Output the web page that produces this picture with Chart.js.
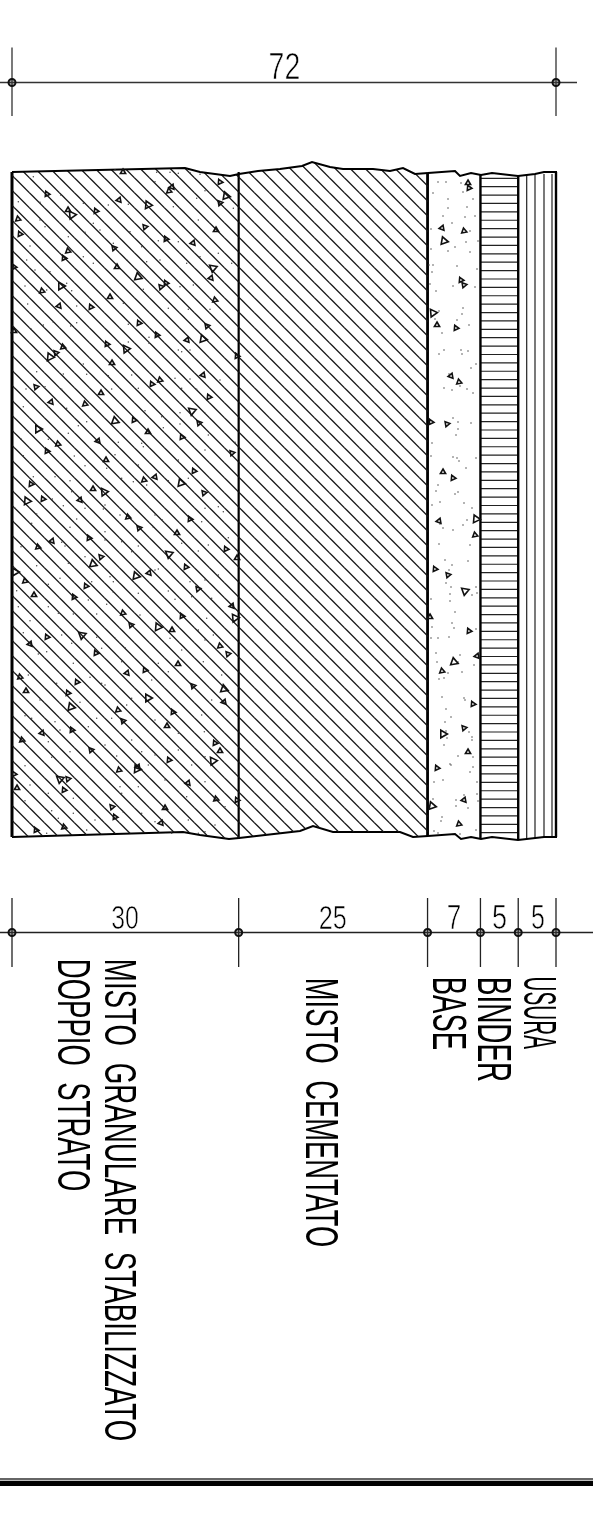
<!DOCTYPE html>
<html><head><meta charset="utf-8">
<style>html,body{margin:0;padding:0;background:#fff}canvas{display:block}</style>
<script src="https://cdn.jsdelivr.net/npm/chart.js@4/dist/chart.umd.min.js"></script>
</head><body><canvas id="c" width="593" height="1515"></canvas>
<script>
// Layer thicknesses in cm, from the dimension strings
const layerNames = ["MISTO GRANULARE STABILIZZATO / DOPPIO STRATO","MISTO CEMENTATO","BASE","BINDER","USURA"];
const layerThickness = [30,25,7,5,5];
const totalThickness = 72;
const usuraLines = [526.7,535,544,552];

// Sheet readings (x, y as measured on the drawing)
const edgeTopGravel = [[12,172],[185,168],[200,172],[230,176],[239,174]];
const edgeBotGravel = [[12,837],[183,832],[200,835],[229,839],[239,838]];
const edgeTopCement = [[239,174],[258,171],[280,169],[302,166],[312,162],[330,167],[343,169],[373,169],[390,171],[403,168],[415,174],[428,173]];
const edgeBotCement = [[239,838],[300,831],[313,826],[333,832],[400,832],[413,837],[428,836]];
const edgeTopAsphalt = [[428,173],[455,171],[460,176],[471,173],[481,175],[492,173],[518,176],[535,174],[544,172],[557,172]];
const edgeBotAsphalt = [[428,836],[455,834],[461,839],[471,837],[481,839],[492,837],[518,840],[544,837],[557,837]];

const gravelTriSmall = [[123,172],[47,194],[172,187],[169,191],[220,182],[220,203],[68,210],[96,211],[119,200],[18,219],[20,234],[145,227],[216,230],[166,239],[193,243],[68,251],[64,258],[114,248],[117,267],[14,267],[211,278],
[42,291],[166,283],[161,287],[110,297],[91,307],[59,306],[215,300],[139,323],[207,326],[14,331],[157,335],[187,340],[63,347],[107,344],[56,353],[112,363],[237,356],[203,375],[160,380],[152,384],[36,387],[101,393],[209,397],[51,402],[85,404],[134,420],[199,423],[148,432],[182,437],[98,441],[58,444],[47,451],[232,453],[106,460],
[194,471],[155,477],[144,480],[31,484],[204,493],[93,489],[43,499],[80,500],[128,517],[190,519],[139,528],[177,533],[89,538],[52,541],[38,547],[226,549],[101,557],[237,558],[186,567],[149,573],[25,581],[86,586],[198,589],[34,595],[74,597],[232,606],[123,613],[182,616],[131,625],[172,630],[47,637],[30,644],[220,646],[96,653],[228,654],
[178,664],[145,670],[127,673],[20,677],[77,682],[193,686],[26,691],[68,693],[224,702],[118,710],[173,712],[123,721],[167,726],[72,730],[42,733],[22,740],[215,743],[91,750],[220,751],[169,760],[138,767],[119,770],[14,774],[68,779],[17,788],[64,790],[188,783],[216,799],[237,800],[112,807],[165,808],[115,817],[161,823],[64,827],[36,830]];
const gravelTriLarge = [[226,196],[72,215],[148,205],[213,268],[138,277],[61,286],[203,339],[126,349],[50,357],[192,411],[115,421],[38,429],
[181,483],[104,492],[27,501],[169,554],[93,564],[15,572],[136,576],[235,618],[158,627],[82,635],[224,689],[148,698],[71,707],[213,761],[137,769],[60,779]];
const baseTriSmall = [[468,183],[469,188],[442,228],[464,231],[461,280],[464,285],[437,325],[456,328],[451,376],[459,382],[431,422],[447,424],[443,472],[453,478],[439,521],[475,535],[435,569],[448,575],[430,617],[469,631],[477,656],[442,671],[473,704],[464,728],[468,752],[437,768],[464,800],[459,824]];
const baseTriLarge = [[444,241],[433,313],[476,519],[465,591],[454,662],[443,734],[432,806]];
const baseDots = [[438,182],[446,182],[461,183],[463,192],[433,193],[473,199],[448,199],[448,208],[467,207],[443,216],[465,217],[475,216],[452,223],[431,229],[470,231],[478,241],[466,242],[455,247],[431,249],[448,251],[470,252],[429,265],[433,265],[457,266],[477,269],[432,272],[430,284],[453,286],[475,287],[436,291],[463,308],[462,314],[439,311],[457,320],[435,319],[469,325],[442,333],[461,350],[468,351],[444,350],[439,354],[462,354],[476,364],[471,368],[449,374],[460,386],[444,388],[452,390],[467,389],[473,393],
[453,418],[458,422],[471,423],[458,429],[456,435],[432,443],[431,456],[453,457],[457,458],[459,461],[476,458],[466,468],[438,485],[436,491],[458,492],[455,494],[440,502],[432,505],[464,503],[472,508],[467,520],[463,525],[440,524],[443,528],[453,530],[439,544],[470,545],[445,560],[468,561],[452,565],[449,570],[446,583],[451,587],[476,587],[472,595],[477,593],[450,594],[450,601],[431,599],[455,612],[452,623],
[432,627],[454,628],[476,629],[449,637],[438,638],[431,638],[436,653],[460,655],[437,662],[458,662],[474,665],[448,673],[462,672],[444,678],[439,679],[442,697],[464,698],[465,700],[446,709],[451,717],[445,722],[469,732],[446,731],[472,737],[472,740],[447,738],[444,745],[458,756],[473,757],[450,764],[451,765],[473,767],[470,772],[443,780],[434,782],[477,782],[477,794],[433,799],[456,800],[464,795],[478,801],[468,808],[456,806],[442,817],[441,821],[434,831],[438,833],[476,830],[460,834]];
const dotsCropA = [[345,420],[470,427],[510,427],[535,430],[570,428],[600,433],[55,515],[100,440],[182,495],[120,517],[250,520],[325,525],[385,523],[465,455],[615,482],[520,530],[590,505],[135,590],[120,570],[90,648],[130,620],[205,620],[255,607],[300,600],[280,580],[390,605],[340,640],[475,632],[535,635],[425,650],[595,570],[700,535],[150,725],[105,720],[80,690],[250,680],[280,700],[440,695],[380,690],[480,690],[560,700],[600,680],[655,670],[200,760],[330,775],[540,770],[580,765],[695,700]];
const dotsCropB = [[60,18],[125,30],[200,32],[120,55],[68,72],[140,75],[215,78],[355,70],[415,28],[490,85],[550,88],[615,88],[370,133],[215,128],[145,127],[115,135],[78,147],[197,138],[432,172],[432,190],[370,186],[520,210],[555,210],[530,215],[635,255],[235,252],[95,275],[175,282],[245,283],[310,287],[380,285],[510,295],[555,297],[645,300],[63,327],[120,320],[170,328],[320,327],[400,325],[530,325],[575,328],[130,380],[55,380],[185,385],[420,392],[470,410],[525,398],[600,400],[245,425],[220,437],[190,460],[48,477],[130,478],[340,487],[410,490],[475,443],[525,432],[610,465],[690,487],[55,527],[208,528],[330,524],[415,500],[520,540],[600,510],[400,555]];
const dotsCropC = [[85,35],[150,35],[195,47],[240,2],[305,10],[350,40],[385,50],[490,47],[550,40],[425,60],[30,130],[95,147],[142,102],[175,122],[200,80],[215,162],[240,130],[300,120],[295,132],[345,150],[450,150],[510,115],[600,130],[640,125],[655,140],[195,187],[80,175],[300,200],[445,187],[472,165],[590,170],[530,235],[170,232],[180,243],[300,225],[350,230],[400,243],[610,240],[670,218],[580,258],[48,245],[380,260],[450,315],[95,302],[190,295],[240,275],[315,335],[325,350],[165,340],[460,312],[555,350],[600,345],[640,330],[35,377],[130,358],[260,350],[325,382],[400,385],[490,378],[560,395],[130,425],[40,425],[160,445],[250,405],[305,418],[510,403],[620,400],[75,467],[205,447],[275,447],[405,450],[605,460],[55,503],[170,510],[275,517],[330,520],[495,520],[580,495],[625,510],[200,535],[290,550],[360,548],[530,555],[600,525],[100,567]];
const dotsCropD = [[125,5],[205,40],[350,35],[460,40],[595,35],[70,75],[155,100],[290,100],[255,82],[300,105],[440,90],[490,65],[650,75],[105,150],[225,157],[380,145],[365,165],[620,150],[60,197],[80,205],[150,215],[275,205],[320,205],[450,210],[590,195],[250,230],[380,270],[65,240],[165,240],[520,250],[598,245],[130,275],[335,318],[300,285],[450,315],[600,320],[140,322],[60,347],[195,305],[410,305],[520,300],[690,370],[430,345],[560,345],[345,410],[400,410],[480,390],[600,395],[75,405],[130,430],[205,445],[260,435],[350,430],[545,440],[60,452],[140,482],[205,490],[270,510],[290,510],[355,487],[410,490],[450,515],[550,510],[630,525],[660,470],[160,505],[125,550],[245,540],[500,550],[600,545],[580,550]];

const numberLabels = ["72","30","25","7","5","5"];
const numberBoxes = [[270,53,299,79],[112,905,138,929],[320,905,346,929],[448,905,460,929],[493,905,506,929],[532,905,544,929]];
const sideLabels = ["MISTO GRANULARE STABILIZZATO","DOPPIO STRATO","MISTO CEMENTATO","BASE","BINDER","USURA"];
const sideBoxes = [[105,961,137,1440],[58,961,91,1190],[306,980,339,1246],[433,979,467,1049],[478,979,511,1081],[524,978,557,1049]];

// Drawing geometry: sheet position of the origin and sheet units per cm
const K = 544/72, OX = 12, OY = 172;
const X = u => (u-OX)/K, Y = v => (v-OY)/K;
const pt = ([u,v]) => ({x:X(u),y:Y(v)});
const crop = (ox,oy,a) => a.map(([x,y]) => pt([ox+x/3,oy+y/3]));
const cum = [0]; layerThickness.forEach(t => cum.push(cum[cum.length-1]+t));

function hatch(){
  const S = 15, off = 1.7;
  const c = document.createElement('canvas'); c.width = c.height = S;
  const g = c.getContext('2d'); g.strokeStyle = '#111'; g.lineWidth = 1.3;
  for (let k=-2;k<=2;k++){ g.beginPath(); g.moveTo(-2,-2-off+k*S); g.lineTo(S+2,S+2-off+k*S); g.stroke(); }
  return g.createPattern(c,'repeat');
}
const H = hatch();
const line = (data,o={}) => Object.assign({type:'scatter',showLine:true,data,pointRadius:0,borderColor:'#000',borderWidth:2,fill:false,clip:false,order:5},o);
const tri = (data,r,turns) => ({type:'scatter',data,pointStyle:'triangle',pointRadius:r,borderColor:'#111',borderWidth:1.6,backgroundColor:'rgba(255,255,255,0)',
  rotation:c => turns[c.dataIndex%turns.length],clip:false,order:3});
const dots = data => ({type:'scatter',data,pointStyle:'circle',pointRadius:0.75,borderWidth:0,backgroundColor:'#444',clip:false,order:4});
const smallTurns = [0,95,20,110,-25,80], largeTurns = [100,85,95,70,110,90];

const dimTopY = Y(82.5), dimBotY = Y(932.5);
const tickPairs = (xs,a,b) => { const d=[]; xs.forEach(x=>{d.push({x,y:Y(a)},{x,y:Y(b)},{x:NaN,y:NaN});}); return d; };
const binderRows = []; for (let i=0;i<=78;i++){ const v=178.3+i*(654.4/78); binderRows.push({x:cum[3],y:Y(v)},{x:cum[4],y:Y(v)},{x:NaN,y:NaN}); }
const usura = []; usuraLines.forEach(u=>usura.push({x:X(u),y:Y(174)},{x:X(u),y:Y(838)},{x:NaN,y:NaN}));

const datasets = [
  line(edgeTopGravel.map(pt),{fill:'+1',backgroundColor:H}),
  line(edgeBotGravel.map(pt)),
  line(edgeTopCement.map(pt),{fill:'+1',backgroundColor:H}),
  line(edgeBotCement.map(pt)),
  line(edgeTopAsphalt.map(pt)),
  line(edgeBotAsphalt.map(pt)),
  line(binderRows,{borderWidth:1.2,borderColor:'#222',order:6,spanGaps:false}),
  line(usura,{borderWidth:1.2,borderColor:'#222',order:6,spanGaps:false}),
  line([{x:cum[0],y:Y(172)},{x:cum[0],y:Y(837)}],{borderWidth:3}),
  line([{x:cum[1],y:Y(172)},{x:cum[1],y:Y(839)}],{borderWidth:2.2}),
  line([{x:cum[2],y:Y(173)},{x:cum[2],y:Y(836)}],{borderWidth:2.8}),
  line([{x:cum[3],y:Y(174)},{x:cum[3],y:Y(839)}],{borderWidth:2.4}),
  line([{x:cum[4],y:Y(176)},{x:cum[4],y:Y(840)}],{borderWidth:2.4}),
  line([{x:cum[5],y:Y(172)},{x:cum[5],y:Y(837)}],{borderWidth:2.4}),
  line([{x:X(0),y:dimTopY},{x:X(577),y:dimTopY}],{borderWidth:1.3,borderColor:'#333'}),
  line([{x:X(0),y:dimBotY},{x:X(593),y:dimBotY}],{borderWidth:1.3,borderColor:'#222'}),
  line(tickPairs([0,totalThickness],47.5,116),{borderWidth:1.3,borderColor:'#333'}),
  line(tickPairs(cum,898,967),{borderWidth:1.3,borderColor:'#222'}),
  {type:'scatter',data:[{x:0,y:dimTopY},{x:totalThickness,y:dimTopY}].concat(cum.map(x=>({x,y:dimBotY}))),pointStyle:'circle',pointRadius:3.5,borderWidth:2,borderColor:'#111',backgroundColor:'rgba(60,60,60,.35)',clip:false,order:1},
  tri(gravelTriSmall.map(pt),3,smallTurns),tri(gravelTriLarge.map(pt),4.4,largeTurns),tri(baseTriSmall.map(pt),3,smallTurns),tri(baseTriLarge.map(pt),4.4,largeTurns),
  dots(baseDots.map(pt)),
  dots(crop(0,30,dotsCropA).concat(crop(5,280,dotsCropB),crop(5,465,dotsCropC),crop(5,650,dotsCropD))),
  line([{x:X(0),y:Y(1479)},{x:X(593),y:Y(1479)}],{borderWidth:1.6,borderColor:'#333'}),
  line([{x:X(0),y:Y(1483.4)},{x:X(593),y:Y(1483.4)}],{borderWidth:5.2})
];

const FONT = '"Liberation Sans Narrow","Liberation Sans"';
function fit(g,text,w,h,rotated,xs,ys,thin){
  g.save();
  g.font = '100px '+FONT; g.textBaseline='alphabetic'; g.textAlign='left'; g.fillStyle='#000';
  if ('wordSpacing' in g) g.wordSpacing = '32px';
  const m = g.measureText(text);
  const capH = m.actualBoundingBoxAscent + m.actualBoundingBoxDescent;
  const sy = h/capH, sx = w/(m.actualBoundingBoxRight+m.actualBoundingBoxLeft);
  g.translate(xs,ys);
  if (rotated) g.rotate(Math.PI/2);
  g.scale(sx,sy);
  g.translate(m.actualBoundingBoxLeft,-m.actualBoundingBoxDescent);
  g.fillText(text,0,0);
  if (thin>0){ g.strokeStyle='#fff'; g.lineWidth=thin; g.lineJoin='round'; g.strokeText(text,0,0); }
  g.restore();
}
const textPlugin = { id:'drawingText', afterDraw(ch){
  const g = ch.ctx, sx = ch.scales.x, sy = ch.scales.y;
  numberLabels.forEach((t,i)=>{ const b = numberBoxes[i];
    const x0=sx.getPixelForValue(X(b[0])),x1=sx.getPixelForValue(X(b[2])),y0=sy.getPixelForValue(Y(b[1])),y1=sy.getPixelForValue(Y(b[3]));
    fit(g,t,x1-x0,y1-y0,false,x0,y1,2);
  });
  sideLabels.forEach((t,i)=>{ const b = sideBoxes[i];
    const x0=sx.getPixelForValue(X(b[0])),x1=sx.getPixelForValue(X(b[2])),y0=sy.getPixelForValue(Y(b[1])),y1=sy.getPixelForValue(Y(b[3]));
    fit(g,t,y1-y0,x1-x0,true,x0,y0,0);
  });
}};
new Chart(document.getElementById('c'),{
  type:'scatter', data:{datasets},
  plugins:[textPlugin],
  options:{responsive:false,animation:false,devicePixelRatio:1,events:[],
    layout:{padding:0,autoPadding:false},
    plugins:{legend:{display:false},tooltip:{enabled:false},title:{display:false}},
    scales:{
      x:{type:'linear',display:false,min:X(0),max:X(593)},
      y:{type:'linear',display:false,reverse:true,min:Y(0),max:Y(1515)}
    }}
});
</script></body></html>
